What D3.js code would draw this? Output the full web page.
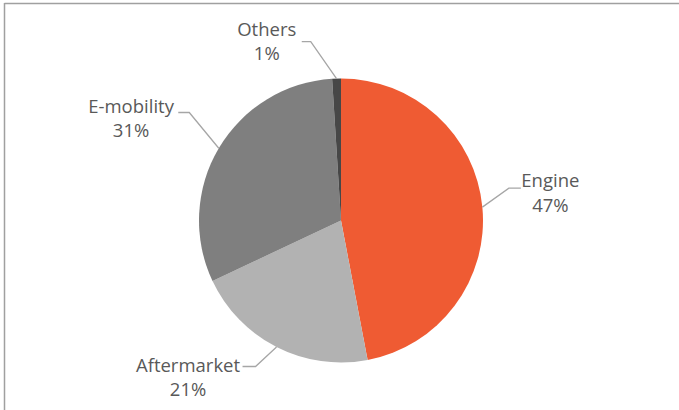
<!DOCTYPE html>
<html>
<head>
<meta charset="utf-8">
<script src="https://cdn.jsdelivr.net/npm/d3@7"></script>
<style>
  body { margin: 0; background: #fff; }
  text { font-family: "Open Sans", sans-serif; fill: #595959; }
</style>
</head>
<body>
<div id="pie"></div>
<script>
// valores del grafico
var categories = ["Engine", "Aftermarket", "E-mobility", "Others"];
var shares = [47, 21, 31, 1];
var colors = ["#EF5B33", "#B2B2B2", "#7F7F7F", "#474747"];

// donde va cada etiqueta: codo (dx, dy desde el borde), largo del tramo horizontal, texto (dx, dy baseline)
var labelLayout = [
    {elbow: [26.5, -19], run: 12, text: [68, -19.8]},
    {elbow: [-21, 19.5], run: 13, text: [-88.5, 24.5]},
    {elbow: [-29.5, -35.7], run: 11, text: [-87.7, -35.3]},
    {elbow: [-25.8, -37], run: 9, text: [-69.8, -42.7]}
];

var width = 679, height = 410;
var cx = 341, cy = 220.5, radius = 142;

var svg = d3.select("#pie")
    .append("svg")
    .attr("width", width)
    .attr("height", height);

// marco (solo arriba e izquierda)
svg.append("line")
    .attr("x1", 4.5).attr("x2", width)
    .attr("y1", 3.5).attr("y2", 3.5)
    .attr("stroke", "#A0A0A0")
    .attr("stroke-width", 1.5);
svg.append("line")
    .attr("x1", 4.5).attr("x2", 4.5)
    .attr("y1", 3).attr("y2", height)
    .attr("stroke", "#A0A0A0")
    .attr("stroke-width", 1.5);

var data = categories.map(function(c, i) {
    return {name: c, value: shares[i], color: colors[i], layout: labelLayout[i]};
});

var pie = d3.pie()
    .sort(null)
    .value(function(d) { return d.value; });

var arc = d3.arc()
    .innerRadius(0)
    .outerRadius(radius);

var g = svg.append("g")
    .attr("transform", "translate(" + cx + "," + cy + ")");

var arcs = pie(data);

g.selectAll("slice")
    .data(arcs)
    .enter()
    .append("path")
        .attr("d", arc)
        .attr("fill", function(d) { return d.data.color; });

// lineas guia
function edgePoint(d) {
    var a = (d.startAngle + d.endAngle) / 2;
    return [radius * Math.sin(a), -radius * Math.cos(a)];
}

g.selectAll("leader")
    .data(arcs)
    .enter()
    .append("polyline")
        .attr("points", function(d) {
            var p = edgePoint(d);
            var l = d.data.layout;
            var e = [p[0] + l.elbow[0], p[1] + l.elbow[1]];
            var dir = l.elbow[0] > 0 ? 1 : -1;
            var h = [e[0] + dir * l.run, e[1]];
            return [p, e, h].map(function(q) { return q.join(","); }).join(" ");
        })
        .attr("fill", "none")
        .attr("stroke", "#A6A6A6")
        .attr("stroke-width", 1.3);

// etiquetas
var labels = g.selectAll("lbl")
    .data(arcs)
    .enter()
    .append("text")
        .attr("text-anchor", "middle")
        .attr("font-size", "18.5px");

labels.append("tspan")
    .attr("x", function(d) { return edgePoint(d)[0] + d.data.layout.text[0]; })
    .attr("y", function(d) { return edgePoint(d)[1] + d.data.layout.text[1]; })
    .text(function(d) { return d.data.name; });

labels.append("tspan")
    .attr("x", function(d) { return edgePoint(d)[0] + d.data.layout.text[0]; })
    .attr("dy", 24.5)
    .text(function(d) { return d.data.value + "%"; });
</script>
</body>
</html>
